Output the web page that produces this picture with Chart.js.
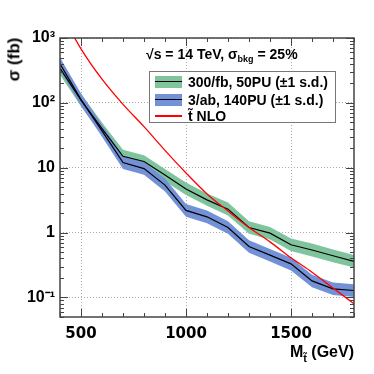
<!DOCTYPE html>
<html lang="en">
<head>
    <meta charset="UTF-8">
    <title>Stop cross-section limits</title>
    <script src="https://cdn.jsdelivr.net/npm/chart.js"></script>
    <style>
        body { margin: 0; background: #fff; }
        #wrap { position: relative; width: 374px; height: 374px; font-family: "Liberation Sans", Arial, sans-serif; font-weight: bold; color: #000; }
        #wrap canvas { position: absolute; left: 0; top: 0; }
        .txt { position: absolute; white-space: nowrap; line-height: 1; }
        #legend { position: absolute; left: 149px; top: 71px; width: 187px; height: 52px; border: 1.5px solid #777; background: #fff; box-sizing: border-box; }
        .row { position: absolute; left: 0; height: 18px; width: 100%; }
        .sw { position: absolute; left: 5px; top: 3px; width: 27px; height: 12px; }
        .mid { position: absolute; left: 0; width: 27px; top: 5px; height: 1.2px; background: #000; }
        .redline { position: absolute; left: 0; width: 27px; top: 5px; height: 1.5px; background: #ff0000; }
        .lab { position: absolute; left: 38px; top: 1px; font-size: 14px; }
    </style>
</head>
<body>
<div id="wrap">
    <canvas id="chart" width="374" height="374"></canvas>

    <div class="txt" style="left:146px; top:47px; font-size:14px;">√s = 14 TeV, σ<sub style="font-size:9px; vertical-align:-3px;">bkg</sub> = 25%</div>

    <div id="legend">
        <div class="row" style="top:1px;"><div class="sw" style="background:#80c49e;"><div class="mid"></div></div><div class="lab">300/fb, 50PU (±1 s.d.)</div></div>
        <div class="row" style="top:19px;"><div class="sw" style="background:#7391d6;"><div class="mid"></div></div><div class="lab">3/ab, 140PU (±1 s.d.)</div></div>
        <div class="row" style="top:35px;"><div class="sw"><div class="redline"></div></div><div class="lab">t̃ NLO</div></div>
    </div>

    <div class="txt" style="left:-8px; top:51px; font-size:17px; transform: rotate(-90deg);">σ (fb)</div>
    <div class="txt" style="right:20px; top:344px; font-size:16px;">M<sub style="font-size:11px; vertical-align:-5px;">t̃</sub> (GeV)</div>
</div>

<script>
    // stop mass points (GeV)
    const masses = [400, 500, 600, 700, 800, 900, 1000, 1100, 1200, 1300, 1400, 1500, 1600, 1700, 1800];

    // 300/fb, 50PU : central value and +-1 s.d. band (fb)
    const lumi300Mid = [340, 110, 40, 15, 12.5, 7.7, 4.7, 3.2, 2.3, 1.2, 0.98, 0.65, 0.54, 0.44, 0.36];
    const lumi300Hi  = [425, 138, 50, 19, 15.6, 9.6, 5.9, 4.0, 2.9, 1.5, 1.22, 0.81, 0.68, 0.55, 0.45];
    const lumi300Lo  = [272, 88, 32, 12, 10, 6.2, 3.8, 2.6, 1.84, 0.96, 0.78, 0.52, 0.43, 0.35, 0.29];

    // 3/ab, 140PU : central value and +-1 s.d. band (fb)
    const lumi3abMid = [400, 112, 37, 12, 9.7, 5.4, 2.2, 1.75, 1.2, 0.61, 0.45, 0.33, 0.18, 0.136, 0.128];
    const lumi3abHi  = [500, 140, 46, 15, 12.1, 6.8, 2.75, 2.2, 1.5, 0.76, 0.56, 0.41, 0.225, 0.17, 0.16];
    const lumi3abLo  = [320, 90, 30, 9.6, 7.8, 4.3, 1.76, 1.4, 0.96, 0.49, 0.36, 0.26, 0.144, 0.109, 0.102];

    // stop pair NLO cross section (fb)
    const stopNLO = [2600, 680, 232, 95, 43, 18.5, 8.3, 3.95, 2.15, 1.2, 0.72, 0.41, 0.245, 0.14, 0.08];

    const xTicks = [500, 1000, 1500];
    const yTicks = [0.1, 1, 10, 100, 1000];
    const yTickLabels = ['10⁻¹', '1', '10', '10²', '10³'];

    const pts = arr => masses.map((m, i) => ({ x: m, y: arr[i] }));

    function band(arr, color, fillTo, order) {
        return {
            data: pts(arr), fill: fillTo, backgroundColor: color,
            borderColor: 'transparent', borderWidth: 0, pointRadius: 0, order: order
        };
    }
    function line(arr, color, width, order) {
        return {
            data: pts(arr), fill: false, borderColor: color, borderWidth: width,
            pointRadius: 0, order: order
        };
    }

    // inward ticks on all four sides + frame, ROOT style
    const framePlugin = {
        id: 'frame',
        afterDraw(chart) {
            const c = chart.ctx, a = chart.chartArea;
            const xs = chart.scales.x, ys = chart.scales.y;
            c.save();
            c.strokeStyle = '#444';
            c.lineWidth = 1;
            c.beginPath();
            for (let m = 400; m <= 1800; m += 100) {
                const px = Math.round(xs.getPixelForValue(m)) + 0.5;
                const len = m % 500 === 0 ? 8 : 4;
                c.moveTo(px, a.bottom); c.lineTo(px, a.bottom - len);
                c.moveTo(px, a.top); c.lineTo(px, a.top + len);
            }
            for (let e = -2; e <= 3; e++) {
                for (let k = 1; k <= 9; k++) {
                    const v = k * Math.pow(10, e);
                    if (v < ys.min || v > ys.max) continue;
                    const py = Math.round(ys.getPixelForValue(v)) + 0.5;
                    const len = k === 1 ? 8 : 4;
                    c.moveTo(a.left, py); c.lineTo(a.left + len, py);
                    c.moveTo(a.right, py); c.lineTo(a.right - len, py);
                }
            }
            c.stroke();
            c.lineWidth = 1.5;
            c.strokeRect(a.left, a.top, a.right - a.left, a.bottom - a.top);
            c.restore();
        }
    };

    new Chart(document.getElementById('chart').getContext('2d'), {
        type: 'line',
        data: {
            datasets: [
                band(lumi300Hi, '#80c49e', 1, 5),
                band(lumi300Lo, '#80c49e', false, 5),
                band(lumi3abHi, '#7391d6', 3, 4),
                band(lumi3abLo, '#7391d6', false, 4),
                line(lumi300Mid, '#000', 1.2, 2),
                line(lumi3abMid, '#000', 1.2, 2),
                Object.assign(line(stopNLO, '#ff0000', 1.3, 1), { cubicInterpolationMode: 'monotone' })
            ]
        },
        options: {
            responsive: false,
            animation: false,
            layout: { padding: { top: 38, right: 20, left: 0, bottom: 0 } },
            plugins: { legend: { display: false }, tooltip: { enabled: false } },
            scales: {
                x: {
                    type: 'linear', min: 400, max: 1800,
                    afterBuildTicks: s => { s.ticks = xTicks.map(v => ({ value: v })); },
                    afterFit: s => { s.height = 57; },
                    grid: { color: '#aaa', lineWidth: 1, drawTicks: false },
                    border: { display: false, dash: [1, 2] },
                    ticks: {
                        padding: 8, color: '#000', maxRotation: 0,
                        font: { family: 'DejaVu Sans', weight: 'bold', size: 15 },
                        callback: v => String(v)
                    }
                },
                y: {
                    type: 'logarithmic', min: 0.05, max: 1000,
                    afterBuildTicks: s => { s.ticks = yTicks.map(v => ({ value: v })); },
                    afterFit: s => { s.width = 60; },
                    grid: { color: '#aaa', lineWidth: 1, drawTicks: false },
                    border: { display: false, dash: [1, 2] },
                    ticks: {
                        padding: 5, color: '#000',
                        font: { family: 'Liberation Sans', weight: 'bold', size: 16 },
                        callback: v => yTickLabels[yTicks.indexOf(v)]
                    }
                }
            }
        },
        plugins: [framePlugin]
    });
</script>
</body>
</html>
